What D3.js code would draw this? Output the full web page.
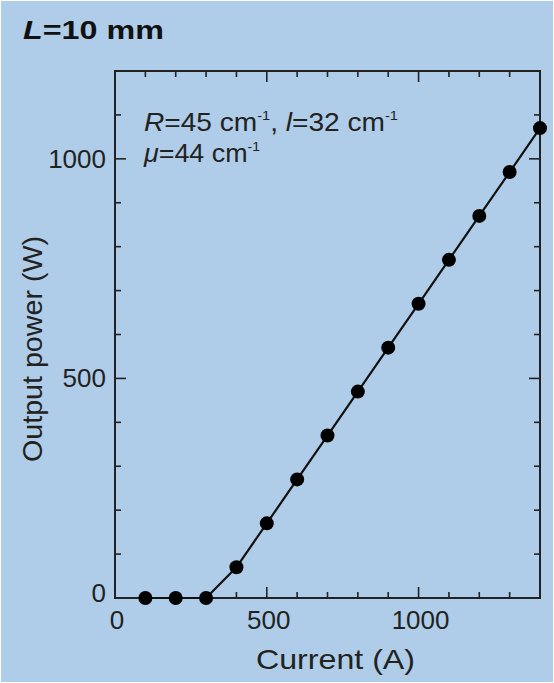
<!DOCTYPE html>
<html>
<head>
<meta charset="utf-8">
<script src="https://cdn.jsdelivr.net/npm/d3@7"></script>
<style>
  html, body { margin: 0; padding: 0; background: #fff; }
  svg { display: block; }
</style>
</head>
<body>
<div id="chart"></div>
<script>
// current (A) and output power (W)
const currents = [100, 200, 300, 400, 500, 600, 700, 800, 900, 1000, 1100, 1200, 1300, 1400];
const powers = [0, 0, 0, 70, 170, 270, 370, 470, 570, 670, 770, 870, 970, 1070];
const xTickLabels = [0, 500, 1000];
const yTickLabels = [0, 500, 1000];

const width = 554, height = 683;
const margin = { left: 115, right: 14, top: 71, bottom: 85 };

const svg = d3.select("#chart").append("svg")
    .attr("width", width)
    .attr("height", height)
    .style("font-family", "'Liberation Sans', Arial, sans-serif");

svg.append("rect")
    .attr("x", 1).attr("y", 1)
    .attr("width", width - 2).attr("height", height - 2)
    .attr("fill", "#afcde8");

const x = d3.scaleLinear().domain([0, 1400]).range([margin.left, width - margin.right]);
const y = d3.scaleLinear().domain([0, 1200]).range([height - margin.bottom, margin.top]);

const ink = "#222";
const minor = d3.range(0, 1401, 100);
const minorY = d3.range(0, 1201, 100);

// frame
svg.append("rect")
    .attr("x", x(0)).attr("y", y(1200))
    .attr("width", x(1400) - x(0)).attr("height", y(0) - y(1200))
    .attr("fill", "none").attr("stroke", ink).attr("stroke-width", 2);

// inward ticks on all sides
const tickLen = v => (v % 500 === 0 ? 11 : 6);
const ticks = svg.append("g").attr("stroke", ink).attr("stroke-width", 1.6);
minor.forEach(v => {
    ticks.append("line").attr("x1", x(v)).attr("x2", x(v))
        .attr("y1", y(0)).attr("y2", y(0) - tickLen(v));
    ticks.append("line").attr("x1", x(v)).attr("x2", x(v))
        .attr("y1", y(1200)).attr("y2", y(1200) + tickLen(v));
});
minorY.forEach(v => {
    ticks.append("line").attr("y1", y(v)).attr("y2", y(v))
        .attr("x1", x(0)).attr("x2", x(0) + tickLen(v));
    ticks.append("line").attr("y1", y(v)).attr("y2", y(v))
        .attr("x1", x(1400)).attr("x2", x(1400) - tickLen(v));
});

// tick labels
svg.append("g").selectAll("text")
    .data(xTickLabels)
    .join("text")
    .attr("x", d => x(d) + 2)
    .attr("y", y(0) + 31)
    .attr("text-anchor", "middle")
    .attr("font-size", 26)
    .attr("fill", ink)
    .text(d => d);

svg.append("g").selectAll("text")
    .data(yTickLabels)
    .join("text")
    .attr("x", x(0) - 9)
    .attr("y", d => y(d) + 9 - (d === 0 ? 5 : 0))
    .attr("text-anchor", "end")
    .attr("font-size", 26)
    .attr("fill", ink)
    .text(d => d);

// axis titles
svg.append("text")
    .attr("x", 256)
    .attr("y", 669)
    .attr("font-size", 28)
    .attr("fill", ink)
    .attr("textLength", 159)
    .attr("lengthAdjust", "spacingAndGlyphs")
    .text("Current (A)");

svg.append("text")
    .attr("transform", "translate(42, 462) rotate(-90)")
    .attr("font-size", 28)
    .attr("fill", ink)
    .attr("textLength", 226)
    .attr("lengthAdjust", "spacingAndGlyphs")
    .text("Output power (W)");

// panel title
const title = svg.append("text")
    .attr("x", 23).attr("y", 39)
    .attr("font-size", 26)
    .attr("font-weight", "bold")
    .attr("fill", "#111")
    .attr("textLength", 141)
    .attr("lengthAdjust", "spacingAndGlyphs");
title.append("tspan").attr("font-style", "italic").text("L");
title.append("tspan").text("=10 mm");

// parameter annotation
const ann1 = svg.append("text")
    .attr("x", 144).attr("y", 131)
    .attr("font-size", 25)
    .attr("fill", ink)
    .attr("textLength", 254)
    .attr("lengthAdjust", "spacingAndGlyphs");
ann1.append("tspan").attr("font-style", "italic").text("R");
ann1.append("tspan").text("=45 cm");
ann1.append("tspan").attr("font-size", 13).attr("dy", -11).text("-1");
ann1.append("tspan").attr("dy", 11).text(", ");
ann1.append("tspan").attr("font-style", "italic").text("l");
ann1.append("tspan").text("=32 cm");
ann1.append("tspan").attr("font-size", 13).attr("dy", -11).text("-1");

const ann2 = svg.append("text")
    .attr("x", 144).attr("y", 162)
    .attr("font-size", 25)
    .attr("fill", ink)
    .attr("textLength", 116)
    .attr("lengthAdjust", "spacingAndGlyphs");
ann2.append("tspan").attr("font-style", "italic").text("μ");
ann2.append("tspan").text("=44 cm");
ann2.append("tspan").attr("font-size", 13).attr("dy", -11).text("-1");

// data
const data = currents.map((c, i) => ({ c, p: powers[i] }));

svg.append("path")
    .datum(data)
    .attr("fill", "none")
    .attr("stroke", "#111")
    .attr("stroke-width", 2.2)
    .attr("d", d3.line().x(d => x(d.c)).y(d => y(d.p)));

svg.append("g").selectAll("circle")
    .data(data)
    .join("circle")
    .attr("cx", d => x(d.c))
    .attr("cy", d => y(d.p))
    .attr("r", 7)
    .attr("fill", "#000");
</script>
</body>
</html>
